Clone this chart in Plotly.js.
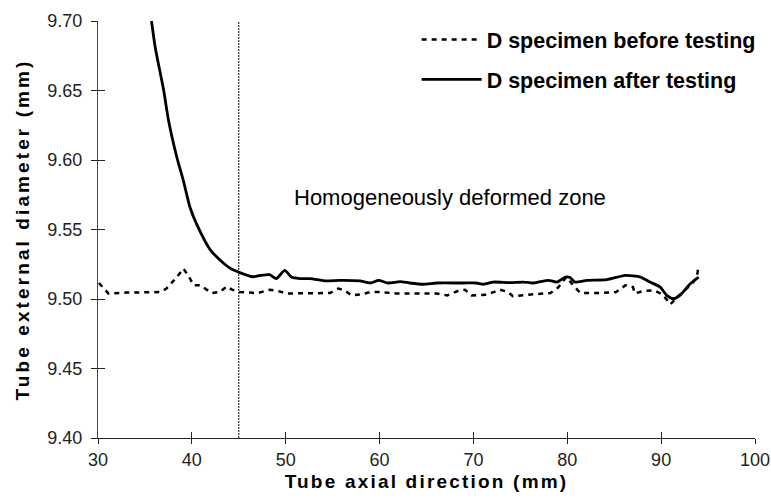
<!DOCTYPE html>
<html>
<head>
<meta charset="utf-8">
<script src="https://cdn.plot.ly/plotly-3.0.1.min.js"></script>
<style>
html,body{margin:0;padding:0;background:#fff;}
#chart{width:771px;height:499px;}
.xtitle{letter-spacing:2.2px;}
.ytitle{letter-spacing:3.1px;}
</style>
</head>
<body>
<div id="chart"></div>
<script>
// Series names
const seriesNames = ["D specimen before testing", "D specimen after testing"];

// D specimen before testing (dotted)
const beforeX = [30.1, 30.6, 31.1, 33.0, 35.2, 36.6, 37.3, 38.4, 39.1, 39.6, 40.2, 40.9, 41.4, 42.1, 43.0, 43.7, 44.3, 45.1, 46.2, 46.9, 48.3, 49.2, 50.1, 52.9, 54.7, 55.6, 56.3, 57.0, 58.1, 59.0, 60.0, 61.8, 64.3, 66.1, 67.2, 68.5, 69.1, 69.8, 71.4, 72.8, 73.7, 74.2, 76.4, 78.2, 79.0, 79.9, 80.8, 81.4, 83.5, 85.2, 86.2, 87.0, 87.2, 88.1, 89.2, 90.1, 90.6, 91.0, 91.7, 92.4, 93.3, 93.8, 94.0];
const beforeY = [9.5115, 9.5075, 9.5040, 9.5046, 9.5050, 9.5050, 9.5075, 9.5158, 9.5219, 9.5170, 9.5099, 9.5099, 9.5075, 9.5043, 9.5050, 9.5090, 9.5067, 9.5050, 9.5046, 9.5040, 9.5067, 9.5057, 9.5040, 9.5040, 9.5043, 9.5075, 9.5063, 9.5026, 9.5034, 9.5050, 9.5050, 9.5040, 9.5043, 9.5040, 9.5026, 9.5062, 9.5067, 9.5026, 9.5030, 9.5067, 9.5050, 9.5020, 9.5034, 9.5043, 9.5081, 9.5158, 9.5086, 9.5043, 9.5043, 9.5050, 9.5099, 9.5086, 9.5040, 9.5057, 9.5063, 9.5034, 9.4996, 9.4962, 9.5014, 9.5057, 9.5110, 9.5158, 9.5242];

// D specimen after testing (solid)
const afterX = [35.7, 36.1, 37.0, 37.5, 38.4, 39.1, 39.8, 40.5, 41.9, 43.0, 44.1, 45.1, 46.5, 47.3, 48.3, 49.0, 49.9, 50.6, 51.5, 52.6, 54.3, 55.8, 57.9, 59.0, 59.9, 60.9, 62.2, 63.2, 64.7, 66.1, 68.9, 70.3, 71.1, 72.1, 73.9, 75.3, 76.4, 78.0, 78.9, 79.8, 80.3, 80.8, 82.1, 84.2, 86.2, 87.8, 88.8, 89.9, 90.6, 91.3, 92.0, 93.1, 94.0];
const afterY = [9.700, 9.681, 9.650, 9.629, 9.602, 9.585, 9.566, 9.554, 9.536, 9.528, 9.522, 9.519, 9.516, 9.517, 9.5175, 9.5147, 9.5206, 9.5158, 9.5147, 9.5147, 9.5130, 9.5134, 9.5130, 9.5115, 9.5134, 9.5115, 9.5125, 9.5115, 9.5106, 9.5115, 9.5115, 9.5115, 9.5106, 9.5122, 9.5118, 9.5122, 9.5115, 9.5134, 9.5122, 9.5158, 9.5154, 9.5122, 9.5134, 9.5139, 9.5170, 9.5158, 9.5122, 9.5086, 9.5026, 9.5002, 9.5026, 9.5110, 9.5158];

// Zone boundary and annotation
const zoneStartX = 45;
const zoneLabel = "Homogeneously deformed zone";
const zoneLabelX = 67.5;
const zoneLabelY = 9.573;

// Axes
const xRange = [30, 100];
const yRange = [9.40, 9.70];
const xTickVals = [30, 40, 50, 60, 70, 80, 90, 100];
const xTickText = ["30", "40", "50", "60", "70", "80", "90", "100"];
const yTickVals = [9.40, 9.45, 9.50, 9.55, 9.60, 9.65, 9.70];
const yTickText = ["9.40", "9.45", "9.50", "9.55", "9.60", "9.65", "9.70"];
const xTitle = "Tube axial direction (mm)";
const yTitle = "Tube external diameter (mm)";

const FONT = "Arial, 'Liberation Sans', sans-serif";

const traces = [
  {x: beforeX, y: beforeY, name: seriesNames[0], mode: "lines", legendgroup: "a",
   line: {color: "#000", width: 2.5, dash: "5px,5px"}},
  {x: afterX, y: afterY, name: seriesNames[1], mode: "lines", legendgroup: "b",
   line: {color: "#000", width: 2.8, shape: "spline", smoothing: 0.6}},
  {x: [zoneStartX, zoneStartX], y: yRange, mode: "lines", showlegend: false, hoverinfo: "skip",
   line: {color: "#000", width: 1, dash: "2px,1px"}},
  // invisible trace to activate the inside-tick overlay axes
  {x: [xRange[0]], y: [yRange[0]], xaxis: "x2", yaxis: "y2", mode: "markers",
   marker: {opacity: 0}, showlegend: false, hoverinfo: "skip"}
];

const layout = {
  width: 771, height: 499,
  margin: {l: 98, r: 16, t: 21, b: 61, autoexpand: false},
  paper_bgcolor: "#fff", plot_bgcolor: "#fff",
  font: {family: FONT, color: "#000"},
  showlegend: true,
  legend: {x: 0.485, y: 1.005, xanchor: "left", yanchor: "top",
    font: {family: FONT, size: 21.5, weight: "bold", color: "#000"},
    bgcolor: "rgba(0,0,0,0)", itemwidth: 60, tracegroupgap: 9},
  xaxis: {range: xRange, tickvals: xTickVals, ticktext: xTickText,
    showgrid: false, zeroline: false, showline: true, linecolor: "#222", linewidth: 1,
    ticks: "outside", ticklen: 5, tickcolor: "#222", tickwidth: 1,
    tickfont: {family: FONT, size: 18, color: "#222"},
    title: {text: xTitle, font: {family: FONT, size: 19, weight: "bold", color: "#000"}, standoff: 6}},
  yaxis: {range: yRange, tickvals: yTickVals, ticktext: yTickText,
    showgrid: false, zeroline: false, showline: true, linecolor: "#444", linewidth: 1,
    ticks: "outside", ticklen: 6, tickcolor: "#222", tickwidth: 1, ticklabelstandoff: 5,
    tickfont: {family: FONT, size: 18, color: "#222"},
    title: {text: yTitle, font: {family: FONT, size: 19, weight: "bold", color: "#000"}, standoff: 12}},
  xaxis2: {range: xRange, overlaying: "x", tickvals: xTickVals, showticklabels: false,
    showgrid: false, zeroline: false, showline: false, ticks: "inside", ticklen: 6, tickcolor: "#222"},
  yaxis2: {range: yRange, overlaying: "y", tickvals: yTickVals, showticklabels: false,
    showgrid: false, zeroline: false, showline: false, ticks: "inside", ticklen: 7, tickcolor: "#222"},
  annotations: [{x: zoneLabelX, y: zoneLabelY, xref: "x", yref: "y", text: zoneLabel,
    showarrow: false, font: {family: FONT, size: 22, color: "#000"}}]
};

Plotly.newPlot("chart", traces, layout, {displayModeBar: false, staticPlot: true});
</script>
</body>
</html>
